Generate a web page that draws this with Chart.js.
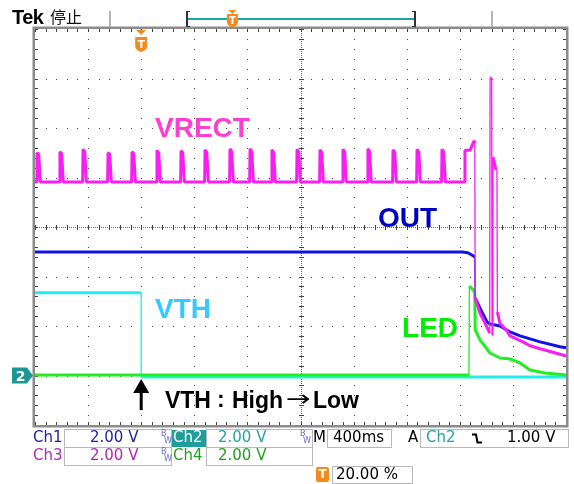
<!DOCTYPE html>
<html><head><meta charset="utf-8">
<script src="https://cdn.jsdelivr.net/npm/chart.js@4/dist/chart.umd.min.js"></script>
<style>
html,body{margin:0;padding:0;background:#fff;}
#wrap{position:relative;width:574px;height:484px;overflow:hidden;font-family:"DejaVu Sans",sans-serif;}
#c{position:absolute;left:0;top:0;}
.t{position:absolute;white-space:nowrap;font-size:15px;line-height:17px;height:17px;}
.box{position:absolute;border:1px solid #b9b9b9;box-sizing:border-box;background:#fff;}
.bw{position:absolute;font-size:8px;line-height:8px;color:#6a6ac8;font-family:"DejaVu Sans",sans-serif;}
.hl{position:absolute;}
</style></head>
<body><div id="wrap"><canvas id="c" width="574" height="484"></canvas>

<!-- header -->
<div class="t" style="left:12px;top:5px;font:bold 20px 'Liberation Sans',sans-serif;line-height:24px;color:#000;letter-spacing:-0.5px;">Tek</div>
<div class="t" style="left:50px;top:5px;font:16px 'Noto Sans CJK SC',sans-serif;line-height:22px;color:#111;">停止</div>
<div class="hl" style="left:109px;top:11px;width:2px;height:16px;background:#b5b5b5;"></div>
<div class="hl" style="left:491px;top:11px;width:2px;height:16px;background:#b5b5b5;"></div>
<div class="hl" style="left:186px;top:11px;width:2px;height:16px;background:#333;"></div>
<div class="hl" style="left:186px;top:11px;width:4px;height:1px;background:#333;"></div>
<div class="hl" style="left:186px;top:26px;width:4px;height:1px;background:#333;"></div>
<div class="hl" style="left:414px;top:11px;width:2px;height:16px;background:#333;"></div>
<div class="hl" style="left:412px;top:11px;width:4px;height:1px;background:#333;"></div>
<div class="hl" style="left:412px;top:26px;width:4px;height:1px;background:#333;"></div>
<div class="hl" style="left:188px;top:18px;width:226px;height:2px;background:#1fa3a3;"></div>
<svg class="hl" style="left:226px;top:9px;" width="13" height="19" viewBox="0 0 13 19">
  <path d="M2.5 1 H10.5 L6.5 5 Z" fill="#f28a1e"/>
  <path d="M1 5 H12 V13 Q12 17 6.5 18.5 Q1 17 1 13 Z" fill="#f28a1e"/>
  <text x="6.5" y="15" text-anchor="middle" font-family="DejaVu Sans" font-weight="bold" font-size="10" fill="#fff">T</text>
</svg>

<!-- status bar -->
<div class="box" style="left:64px;top:429px;width:108px;height:19px;"></div>
<div class="box" style="left:206px;top:429px;width:107px;height:19px;"></div>
<div class="box" style="left:327px;top:429px;width:65px;height:19px;"></div>
<div class="box" style="left:420px;top:429px;width:149px;height:19px;"></div>
<div class="box" style="left:64px;top:447px;width:108px;height:19px;"></div>
<div class="box" style="left:206px;top:447px;width:107px;height:19px;"></div>
<div class="box" style="left:332px;top:466px;width:81px;height:18px;"></div>
<div class="hl" style="left:172px;top:430px;width:34px;height:17px;background:#1f9c9c;"></div>

<div class="t" style="left:33px;top:429px;color:#2222a2;">Ch1</div>
<div class="t" style="left:90px;top:429px;color:#2222a2;">2.00 V</div>
<div class="bw" style="left:161px;top:430px;">B</div><div class="bw" style="left:164px;top:437px;">W</div>
<div class="t" style="left:173px;top:429px;color:#fff;">Ch2</div>
<div class="t" style="left:218px;top:429px;color:#27a2a2;">2.00 V</div>
<div class="bw" style="left:300px;top:430px;">B</div><div class="bw" style="left:303px;top:437px;">W</div>
<div class="t" style="left:313px;top:429px;color:#000;">M</div>
<div class="t" style="left:333px;top:429px;color:#000;">400ms</div>
<div class="t" style="left:408px;top:429px;color:#000;">A</div>
<div class="t" style="left:426px;top:429px;color:#27a2a2;">Ch2</div>
<svg class="hl" style="left:471px;top:433px;" width="12" height="11" viewBox="0 0 12 11">
  <path d="M1 1.5 H5 L6.5 9.5 H11" stroke="#000" stroke-width="2" fill="none"/>
</svg>
<div class="t" style="left:507px;top:429px;color:#000;">1.00 V</div>

<div class="t" style="left:33px;top:447px;color:#b02ab0;">Ch3</div>
<div class="t" style="left:90px;top:447px;color:#b02ab0;">2.00 V</div>
<div class="bw" style="left:161px;top:448px;">B</div><div class="bw" style="left:164px;top:455px;">W</div>
<div class="t" style="left:173px;top:447px;color:#22a022;">Ch4</div>
<div class="t" style="left:218px;top:447px;color:#22a022;">2.00 V</div>

<div class="hl" style="left:316px;top:467px;width:13px;height:15px;background:#f28a1e;border-radius:2px;"></div>
<div class="t" style="left:316px;top:466px;width:13px;text-align:center;color:#fff;font-weight:bold;font-size:12px;">T</div>
<div class="t" style="left:336px;top:466px;color:#000;">20.00 %</div>
</div>

<script>
// ---- graticule settings (Tek: 10 x 8 divisions, 400 ms/div, trigger at 20 %) ----
const msPerDiv = 400;
const timeMin = -800, timeMax = 3200;   // ms
const divMin = -4, divMax = 4;          // vertical divisions

// ---- Ch3 : VRECT (magenta), values in divisions ----
const vrectTime = [-800,
  -788,-785,-772,-760,  -615,-612,-599,-587,  -441,-438,-425,-413,
  -253,-250,-237,-225,  -72,-69,-56,-44,      116,119,132,144,
  297,300,313,325,      478,481,494,506,      666,669,682,694,
  817,820,833,845,      982,985,998,1010,     1171,1174,1187,1199,
  1344,1347,1360,1372,  1517,1520,1533,1545,  1705,1708,1721,1733,
  1894,1897,1910,1922,  2075,2078,2091,2103,  2263,2266,2279,2291,
  2436,2439,2477,2507,2513,2516,
  2552,2590,2625,2628,2640,2643,2650,2673,2680,2683,
  2703,2756,2778,2876,2929,3005,3155,3200];
const vrectDiv = [0.91,
  0.91,1.50,1.47,0.91,  0.91,1.52,1.48,0.91,  0.91,1.57,1.52,0.91,
  0.91,1.50,1.47,0.91,  0.91,1.52,1.48,0.91,  0.91,1.55,1.50,0.91,
  0.91,1.54,1.50,0.91,  0.91,1.56,1.51,0.91,  0.91,1.58,1.52,0.91,
  0.91,1.58,1.52,0.91,  0.91,1.56,1.51,0.91,  0.91,1.57,1.52,0.91,
  0.91,1.56,1.51,0.91,  0.91,1.57,1.52,0.91,  0.91,1.58,1.52,0.91,
  0.91,1.56,1.51,0.91,  0.91,1.57,1.52,0.91,  0.91,1.57,1.52,0.91,
  0.91,1.55,1.55,1.74,1.70,-1.43,
  -1.74,-1.94,-2.14,3.01,3.01,-2.18,1.41,1.15,1.15,-1.72,
  -1.95,-2.10,-2.20,-2.32,-2.40,-2.46,-2.57,-2.60];

// ---- Ch1 : OUT (blue) ----
const outTime = [-800, 2420, 2460, 2500, 2513, 2516, 2552, 2605, 2628, 2703, 2778, 2854, 3005, 3155, 3200];
const outDiv  = [-0.505,-0.505,-0.52,-0.58,-0.61,-1.43,-1.64,-1.92,-1.96,-2.00,-2.12,-2.20,-2.32,-2.42,-2.44];

// ---- Ch2 : VTH (cyan) ----
const vthTime = [-800, 0, 0, 3200];
const vthDiv  = [-1.33,-1.33,-3.03,-3.03];

// ---- Ch4 : LED (green) ----
const ledTime = [-800, 2469, 2472, 2500, 2513, 2516, 2552, 2628, 2703, 2778, 2854, 2929, 3043, 3200];
const ledDiv  = [-2.99,-2.99,-1.19,-1.27,-1.33,-2.08,-2.28,-2.545,-2.646,-2.667,-2.747,-2.889,-2.95,-2.99];

const ch2GroundDiv = -3;
const triggerTime = 0;

function pts(ts, vs){ return ts.map((t,i)=>({x:t, y:vs[i]})); }

// fast edges are drawn thin, like the scope's sparse fast transitions
const edgeWidth = (normal) => (c) => {
  const dy = Math.abs(c.p1.y - c.p0.y), dx = Math.abs(c.p1.x - c.p0.x);
  return (dy > 38 && dx < 4) ? 1.3 : normal;
};

// annotation text placed in data coordinates
const labels = [
  {text:'VRECT', t:104,  d:1.82,  color:'#ff3fd2', font:'bold 28px "Liberation Sans", Arial, sans-serif'},
  {text:'OUT',   t:1784, d:0.0,   color:'#0000c4', font:'bold 28px "Liberation Sans", Arial, sans-serif'},
  {text:'VTH',   t:104,  d:-1.84, color:'#36c8ff', font:'bold 28px "Liberation Sans", Arial, sans-serif'},
  {text:'LED',   t:1965, d:-2.22, color:'#00ee00', font:'bold 28px "Liberation Sans", Arial, sans-serif'}
];

const gridPlugin = {
  id:'scopeGrid',
  beforeDatasetsDraw(chart){
    const {ctx, chartArea:a, scales:{x, y}} = chart;
    ctx.save();
    const xMinor = [], yMinor = [];
    for (let i=0;i<=50;i++) xMinor.push(Math.round(x.getPixelForValue(timeMin + i*msPerDiv/5)));
    for (let j=0;j<=40;j++) yMinor.push(Math.round(y.getPixelForValue(divMin + j/5)));
    ctx.fillStyle = '#4a4a4a';
    for (let i=1;i<10;i++){
      if (i===5) continue;
      const px = Math.round(x.getPixelForValue(timeMin + i*msPerDiv));
      yMinor.forEach(py=>ctx.fillRect(px, py, 1, 1));
    }
    for (let j=1;j<8;j++){
      if (j===4) continue;
      const py = Math.round(y.getPixelForValue(divMin + j));
      xMinor.forEach(px=>ctx.fillRect(px, py, 1, 1));
    }
    // center lines
    const cx = Math.round(x.getPixelForValue((timeMin+timeMax)/2));
    const cy = Math.round(y.getPixelForValue(0));
    ctx.fillStyle = '#6a6a6a';
    for (let py=Math.round(a.top); py<=a.bottom; py+=2) ctx.fillRect(cx, py, 1, 1);
    for (let px=Math.round(a.left); px<=a.right; px+=2) ctx.fillRect(px, cy, 1, 1);
    ctx.fillStyle = '#444';
    yMinor.forEach(py=>ctx.fillRect(cx-2, py, 5, 1));
    xMinor.forEach(px=>ctx.fillRect(px, cy-2, 1, 5));
    // border ticks
    yMinor.forEach(py=>{ ctx.fillRect(Math.round(a.left), py, 3, 1); ctx.fillRect(Math.round(a.right)-3, py, 3, 1); });
    xMinor.forEach(px=>{ ctx.fillRect(px, Math.round(a.top), 1, 3); ctx.fillRect(px, Math.round(a.bottom)-3, 1, 3); });
    // frame
    ctx.strokeStyle = '#8c8c8c';
    ctx.lineWidth = 2.5;
    ctx.strokeRect(a.left-1.25, a.top-1.25, a.right-a.left+2.5, a.bottom-a.top+2.5);
    ctx.restore();
  },
  afterDatasetsDraw(chart){
    const {ctx, chartArea:a, scales:{x, y}} = chart;
    ctx.save();
    ctx.textBaseline = 'alphabetic';
    labels.forEach(l=>{
      ctx.font = l.font; ctx.fillStyle = l.color;
      ctx.fillText(l.text, x.getPixelForValue(l.t), y.getPixelForValue(l.d));
    });
    // VTH:High→Low annotation
    const bx = x.getPixelForValue(179), by = y.getPixelForValue(-3.66);
    ctx.fillStyle = '#000';
    ctx.font = 'bold 23px "Liberation Sans", Arial, sans-serif';
    ctx.fillText('VTH', bx, by);
    ctx.fillText(':', bx+52, by-1);
    ctx.fillText('High', bx+67, by);
    ctx.save();
    ctx.font = '22px "DejaVu Sans", sans-serif';
    ctx.translate(bx+121, by-2);
    ctx.scale(1.35, 1);
    ctx.fillText('→', 0, 0);
    ctx.restore();
    ctx.fillText('Low', bx+148, by);
    // up arrow at trigger
    const ax = x.getPixelForValue(triggerTime);
    const ay0 = y.getPixelForValue(-3.07), ay1 = y.getPixelForValue(-3.70);
    ctx.beginPath();
    ctx.moveTo(ax, ay0); ctx.lineTo(ax+8, ay0+14); ctx.lineTo(ax-8, ay0+14); ctx.closePath(); ctx.fill();
    ctx.fillRect(ax-1.5, ay0+12, 3, ay1-ay0-12);
    // trigger position marker (orange T)
    ctx.fillStyle = '#f28a1e';
    ctx.beginPath();
    ctx.moveTo(ax-5, a.top+1); ctx.lineTo(ax+5, a.top+1); ctx.lineTo(ax, a.top+6); ctx.closePath(); ctx.fill();
    ctx.beginPath();
    ctx.moveTo(ax-6, a.top+8); ctx.lineTo(ax+6, a.top+8); ctx.lineTo(ax+6, a.top+17);
    ctx.quadraticCurveTo(ax+6, a.top+21, ax, a.top+23);
    ctx.quadraticCurveTo(ax-6, a.top+21, ax-6, a.top+17); ctx.closePath(); ctx.fill();
    ctx.fillStyle = '#fff';
    ctx.font = 'bold 11px "DejaVu Sans", sans-serif';
    ctx.textAlign = 'center';
    ctx.fillText('T', ax, a.top+19);
    // Ch2 ground marker
    const gy = y.getPixelForValue(ch2GroundDiv);
    ctx.fillStyle = '#1f9696';
    ctx.beginPath();
    ctx.moveTo(12, gy-8); ctx.lineTo(27, gy-8); ctx.lineTo(33, gy); ctx.lineTo(27, gy+8); ctx.lineTo(12, gy+8); ctx.closePath(); ctx.fill();
    ctx.fillStyle = '#fff';
    ctx.font = 'bold 14px "DejaVu Sans", sans-serif';
    ctx.fillText('2', 20.5, gy+5);
    ctx.restore();
  }
};

new Chart(document.getElementById('c'), {
  type:'line',
  data:{ datasets:[
    {label:'VRECT', data:pts(vrectTime, vrectDiv), borderColor:'#f81ef0', borderWidth:3, order:1, segment:{borderWidth:edgeWidth(3)}},
    {label:'OUT',   data:pts(outTime, outDiv),     borderColor:'#1212e6', borderWidth:3, order:2, segment:{borderWidth:edgeWidth(3)}},
    {label:'LED',   data:pts(ledTime, ledDiv),     borderColor:'#22ee22', borderWidth:3, order:3, segment:{borderWidth:edgeWidth(3)}},
    {label:'VTH',   data:pts(vthTime, vthDiv),     borderColor:'#22eeee', borderWidth:3, order:4, segment:{borderWidth:edgeWidth(3)}}
  ]},
  options:{
    responsive:false, animation:false, devicePixelRatio:1, events:[],
    layout:{padding:{left:35, top:29, right:8, bottom:59}},
    elements:{point:{radius:0}, line:{tension:0, borderJoinStyle:'bevel', fill:false}},
    scales:{
      x:{type:'linear', min:timeMin, max:timeMax, display:false},
      y:{type:'linear', min:divMin, max:divMax, display:false}
    },
    plugins:{legend:{display:false}, tooltip:{enabled:false}}
  },
  plugins:[gridPlugin]
});
</script>
</body></html>
